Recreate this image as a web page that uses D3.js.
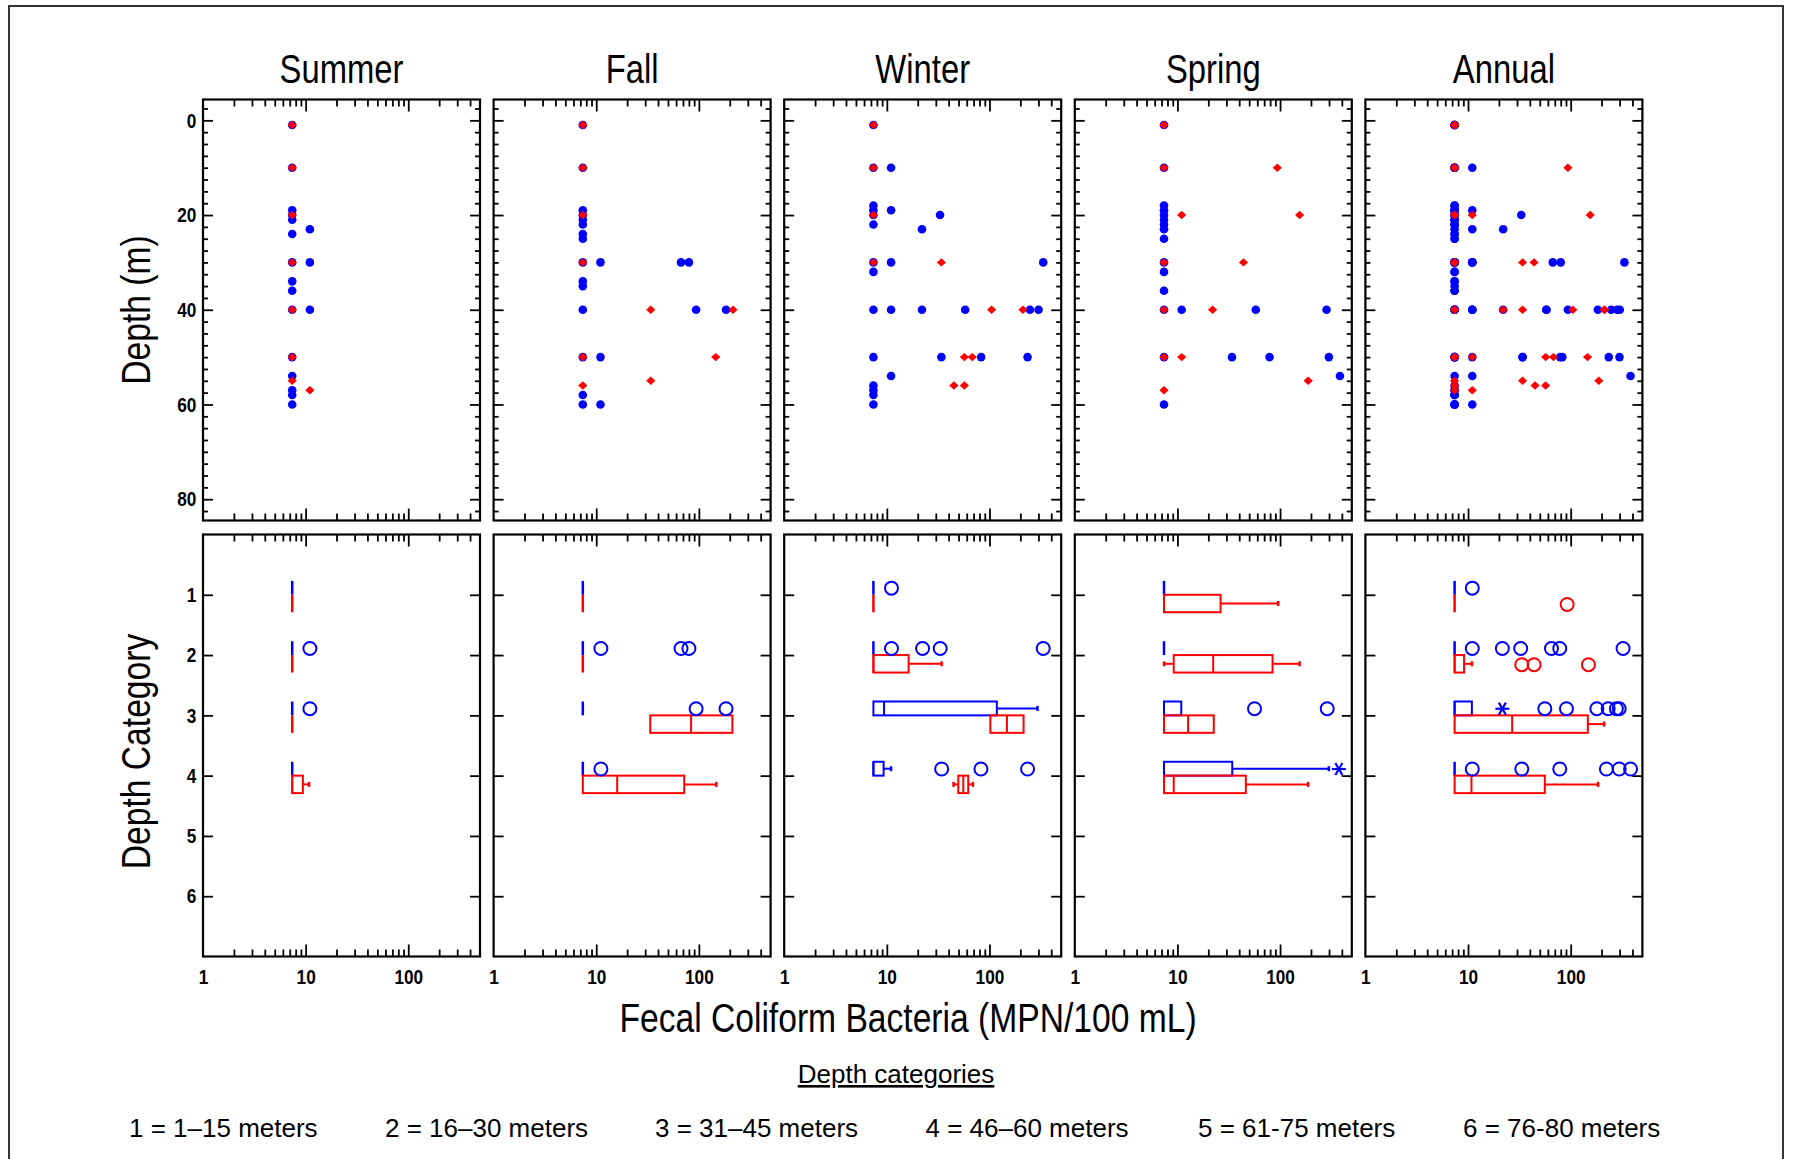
<!DOCTYPE html>
<html>
<head>
<meta charset="utf-8">
<script src="https://cdn.jsdelivr.net/npm/d3@7"></script>
<style>
  body { margin: 0; background: #fff; }
  svg { display: block; }
  text { font-family: "Liberation Sans", Arial, sans-serif; }
</style>
</head>
<body>
<script>
var svgWidth = 1796
var svgHeight = 1159
var squeeze = 0.82   // condensed look of the original lettering

// titles / categories
var panelTitles = ["Summer", "Fall", "Winter", "Spring", "Annual"]
var legendItems = ["1 = 1\u201315 meters", "2 = 16\u201330 meters", "3 = 31\u201345 meters",
                   "4 = 46\u201360 meters", "5 = 61-75 meters", "6 = 76-80 meters"]

// tick values
var xMajor = [10, 100]
var xMinor = [2, 3, 4, 5, 6, 7, 8, 9, 20, 30, 40, 50, 60, 70, 80, 90, 200, 300, 400]
var xLabels = [1, 10, 100]
var depthMajor = [0, 20, 40, 60, 80]
var depthMinor = [-2.5, 2.5, 5, 7.5, 10, 12.5, 15, 17.5, 22.5, 25, 27.5, 30, 32.5, 35, 37.5,
                  42.5, 45, 47.5, 50, 52.5, 55, 57.5, 62.5, 65, 67.5, 70, 72.5, 75, 77.5, 82.5]
var catTicks = [1, 2, 3, 4, 5, 6]

// scatter points: [MPN per 100 mL, depth m]
var summerBlue = [[7.4,1],[7.4,10],[7.4,19],[7.4,20],[7.4,21],[7.4,24],[7.4,30],[7.4,34],[7.4,36],[7.4,40],
                  [7.4,50],[7.4,54],[7.4,57],[7.4,58],[7.4,60],[11,23],[11,30],[11,40]]
var summerRed = [[7.4,1],[7.4,10],[7.4,20],[7.4,30],[7.4,40],[7.4,50],[7.4,55],[11,57]]

var fallBlue = [[7.4,1],[7.4,10],[7.4,19],[7.4,20],[7.4,21],[7.4,22],[7.4,24],[7.4,25],[7.4,30],[7.4,34],
                [7.4,35],[7.4,40],[7.4,50],[7.4,58],[7.4,60],[11,30],[11,50],[11,60],[67,30],[80,30],[94,40],[184,40]]
var fallRed = [[7.4,1],[7.4,10],[7.4,20],[7.4,30],[7.4,50],[7.4,56],[34,40],[34,55],[215,40],[146,50]]

var winterBlue = [[7.4,1],[7.4,10],[7.4,18],[7.4,19],[7.4,20],[7.4,22],[7.4,30],[7.4,32],[7.4,40],[7.4,50],
                  [7.4,56],[7.4,57],[7.4,58],[7.4,60],[11,10],[11,19],[11,30],[11,40],[11,54],[22,23],[22,40],
                  [33,20],[34,50],[58,40],[83,50],[248,40],[301,40],[235,50],[334,30]]
var winterRed = [[7.4,1],[7.4,10],[7.4,20],[7.4,30],[34,30],[57,50],[68,50],[45,56],[57,56],[105,40],[212,40]]

var springBlue = [[7.4,1],[7.4,10],[7.4,18],[7.4,19],[7.4,20],[7.4,21],[7.4,22],[7.4,23],[7.4,25],[7.4,30],
                  [7.4,32],[7.4,36],[7.4,40],[7.4,50],[7.4,60],[11,40],[58,40],[284,40],[34,50],[79,50],[299,50],[383,54]]
var springRed = [[7.4,1],[7.4,10],[7.4,30],[7.4,40],[7.4,50],[7.4,57],[11,20],[11,50],[94,10],[155,20],[44,30],[22,40],[188,55]]

// box stats: [category, q1, median, q3, whiskerLow, whiskerHigh]
var summerBoxBlue = [[1,7.4,7.4,7.4,null,null],[2,7.4,7.4,7.4,null,null],[3,7.4,7.4,7.4,null,null],[4,7.4,7.4,7.4,null,null]]
var summerBoxRed = [[1,7.4,7.4,7.4,null,null],[2,7.4,7.4,7.4,null,null],[3,7.4,7.4,7.4,null,null],[4,7.4,7.4,9.4,null,10.8]]
var fallBoxBlue = [[1,7.4,7.4,7.4,null,null],[2,7.4,7.4,7.4,null,null],[3,7.4,7.4,7.4,null,null],[4,7.4,7.4,7.4,null,null]]
var fallBoxRed = [[1,7.4,7.4,7.4,null,null],[2,7.4,7.4,7.4,null,null],[3,33.6,84,212,null,null],[4,7.4,16,72,null,148]]
var winterBoxBlue = [[1,7.4,7.4,7.4,null,null],[2,7.4,7.4,7.4,null,null],[3,7.4,9.4,118,null,294],[4,7.4,7.4,9.3,null,11]]
var winterBoxRed = [[1,7.4,7.4,7.4,null,null],[2,7.4,7.4,16.3,null,34.2],[3,102,148,215,null,null],[4,49.7,55.6,62.1,44.7,69]]
var springBoxBlue = [[1,7.4,7.4,7.4,null,null],[2,7.4,7.4,7.4,null,null],[3,7.4,7.4,10.9,null,null],[4,7.4,7.4,34.2,null,299]]
var springBoxRed = [[1,7.4,7.4,26.3,null,95.9],[2,9.2,22.3,84.5,7.4,155],[3,7.4,12.7,22.6,null,null],[4,7.4,9.2,46.4,null,188]]
var annualBoxBlue = [[1,7.4,7.4,7.4,null,null],[2,7.4,7.4,7.4,null,null],[3,7.4,7.4,10.9,null,null],[4,7.4,7.4,7.4,null,null]]
var annualBoxRed = [[1,7.4,7.4,7.4,null,null],[2,7.4,7.4,9.15,null,10.9],[3,7.4,26.9,147,null,212],[4,7.4,10.8,56,null,185]]

// outliers: [category, value]   (stars = extremes)
var summerOutBlue = [[2,11],[3,11]]
var summerOutRed = []
var fallOutBlue = [[2,11.1],[2,67],[2,80],[3,94],[3,184],[4,11.1]]
var fallOutRed = []
var winterOutBlue = [[1,11.1],[2,11.1],[2,22.3],[2,33.1],[2,334],[4,34.2],[4,82.6],[4,235]]
var winterOutRed = []
var springOutBlue = [[3,56.4],[3,288]]
var springOutRed = []
var springStarBlue = [[4,374]]
var annualOutBlue = [[1,11],[2,11],[2,21.6],[2,32.6],[2,65],[2,78.3],[2,324],
                     [3,56],[3,91],[3,180],[3,232],[3,279],[3,297],
                     [4,11],[4,33.4],[4,78.3],[4,223],[4,297],[4,383]]
var annualOutRed = [[1,92.4],[2,33.4],[2,44],[2,149]]
var annualStarBlue = [[3,21.6]]

var blue = "#0000ff"
var red = "#ff0000"

var panels = [
  {blue: summerBlue, red: summerRed, boxB: summerBoxBlue, boxR: summerBoxRed, outB: summerOutBlue, outR: summerOutRed, starB: []},
  {blue: fallBlue, red: fallRed, boxB: fallBoxBlue, boxR: fallBoxRed, outB: fallOutBlue, outR: fallOutRed, starB: []},
  {blue: winterBlue, red: winterRed, boxB: winterBoxBlue, boxR: winterBoxRed, outB: winterOutBlue, outR: winterOutRed, starB: []},
  {blue: springBlue, red: springRed, boxB: springBoxBlue, boxR: springBoxRed, outB: springOutBlue, outR: springOutRed, starB: springStarBlue},
  // annual = all seasons together
  {blue: summerBlue.concat(fallBlue, winterBlue, springBlue), red: summerRed.concat(fallRed, winterRed, springRed),
   boxB: annualBoxBlue, boxR: annualBoxRed, outB: annualOutBlue, outR: annualOutRed, starB: annualStarBlue}
]

// layout
var panelW = 277, panelH1 = 421, panelH2 = 422
var left0 = 203, step = 290.6
var top1 = 99.5, top2 = 534.5

var x = d3.scaleLog().domain([1, 500]).range([0, panelW])
var yDepth = d3.scaleLinear().domain([-4.4, 84.5]).range([0, panelH1])
var yCat = d3.scaleLinear().domain([0, 7]).range([0, panelH2])

var svg = d3.select("body").append("svg")
    .attr("width", svgWidth)
    .attr("height", svgHeight)

// outer frame
svg.append("path")
    .attr("d", "M9," + svgHeight + " V6 H1783 V" + svgHeight)
    .attr("fill", "none")
    .attr("stroke", "#333")
    .attr("stroke-width", 2)

function ticks(g, axis) {
    g.call(axis)
    g.select(".domain").remove()
    g.selectAll(".tick line").attr("stroke", "#000").attr("stroke-width", 1.8)
}

function xTicks(g, h) {
    ticks(g.append("g"), d3.axisBottom(x).tickValues(xMajor).tickSize(12).tickFormat(""))
    ticks(g.append("g"), d3.axisBottom(x).tickValues(xMinor).tickSize(7).tickFormat(""))
    ticks(g.append("g").attr("transform", "translate(0," + h + ")"), d3.axisTop(x).tickValues(xMajor).tickSize(12).tickFormat(""))
    ticks(g.append("g").attr("transform", "translate(0," + h + ")"), d3.axisTop(x).tickValues(xMinor).tickSize(7).tickFormat(""))
}

function yTicks(g, scale, vals, size) {
    ticks(g.append("g"), d3.axisRight(scale).tickValues(vals).tickSize(size).tickFormat(""))
    ticks(g.append("g").attr("transform", "translate(" + panelW + ",0)"), d3.axisLeft(scale).tickValues(vals).tickSize(size).tickFormat(""))
}

// bold condensed tick labels
function labelAxis(g, axis) {
    g.call(axis)
    g.select(".domain").remove()
    g.selectAll("text")
        .attr("transform", "scale(" + squeeze + ",1)")
        .style("font-family", "'Liberation Sans', Arial, sans-serif")
        .style("font-size", "21px")
        .style("font-weight", "bold")
        .attr("fill", "#000")
}

var diamond = "M0,-4.2 L4.6,0 L0,4.2 L-4.6,0 Z"

function drawBox(g, b, color, y0, y1) {
    var c = b[0], q1 = b[1], med = b[2], q3 = b[3], lo = b[4], hi = b[5]
    var top = yCat(c + y0), bot = yCat(c + y1), mid = (top + bot) / 2
    if (q1 === q3) {
        g.append("line").attr("x1", x(q1)).attr("x2", x(q1)).attr("y1", top).attr("y2", bot)
            .attr("stroke", color).attr("stroke-width", 2.5)
    } else {
        g.append("rect").attr("x", x(q1)).attr("y", top).attr("width", x(q3) - x(q1)).attr("height", bot - top)
            .attr("fill", "none").attr("stroke", color).attr("stroke-width", 2)
        g.append("line").attr("x1", x(med)).attr("x2", x(med)).attr("y1", top).attr("y2", bot)
            .attr("stroke", color).attr("stroke-width", 2)
    }
    if (hi !== null) {
        g.append("line").attr("x1", x(q3)).attr("x2", x(hi)).attr("y1", mid).attr("y2", mid)
            .attr("stroke", color).attr("stroke-width", 2)
        g.append("line").attr("x1", x(hi)).attr("x2", x(hi)).attr("y1", mid - 2.5).attr("y2", mid + 2.5)
            .attr("stroke", color).attr("stroke-width", 2.5)
    }
    if (lo !== null) {
        g.append("line").attr("x1", x(q1)).attr("x2", x(lo)).attr("y1", mid).attr("y2", mid)
            .attr("stroke", color).attr("stroke-width", 2)
        g.append("line").attr("x1", x(lo)).attr("x2", x(lo)).attr("y1", mid - 2.5).attr("y2", mid + 2.5)
            .attr("stroke", color).attr("stroke-width", 2.5)
    }
}

var blueSpan = [-0.23, 0], redSpan = [0, 0.29]

function bigText(tx, ty, rot, size, str) {
    svg.append("text")
        .attr("transform", "translate(" + tx + "," + ty + ")" + (rot ? " rotate(" + rot + ")" : "") + " scale(" + squeeze + ",1)")
        .attr("text-anchor", "middle")
        .style("font-size", size + "px")
        .text(str)
}

panels.forEach(function(p, i) {
    var px = left0 + i * step

    // title
    bigText(px + panelW / 2, 83, 0, 40, panelTitles[i])

    // ----- upper scatter panel
    var g1 = svg.append("g").attr("transform", "translate(" + px + "," + top1 + ")")
    xTicks(g1, panelH1)
    yTicks(g1, yDepth, depthMajor, 10)
    yTicks(g1, yDepth, depthMinor, 5)

    g1.selectAll(".pb").data(p.blue).enter().append("circle")
        .attr("cx", function(d) { return x(d[0]) })
        .attr("cy", function(d) { return yDepth(d[1]) })
        .attr("r", 4.3)
        .attr("fill", blue)
    g1.selectAll(".pr").data(p.red).enter().append("path")
        .attr("d", diamond)
        .attr("transform", function(d) { return "translate(" + x(d[0]) + "," + yDepth(d[1]) + ")" })
        .attr("fill", red)

    g1.append("rect").attr("width", panelW).attr("height", panelH1)
        .attr("fill", "none").attr("stroke", "#000").attr("stroke-width", 2.2)

    // ----- lower box panel
    var g2 = svg.append("g").attr("transform", "translate(" + px + "," + top2 + ")")
    xTicks(g2, panelH2)
    yTicks(g2, yCat, catTicks, 10)

    p.boxB.forEach(function(b) { drawBox(g2, b, blue, blueSpan[0], blueSpan[1]) })
    p.boxR.forEach(function(b) { drawBox(g2, b, red, redSpan[0], redSpan[1]) })

    g2.selectAll(".ob").data(p.outB).enter().append("circle")
        .attr("cx", function(d) { return x(d[1]) })
        .attr("cy", function(d) { return yCat(d[0] - 0.11) })
        .attr("r", 6.5)
        .attr("fill", "none").attr("stroke", blue).attr("stroke-width", 2)
    g2.selectAll(".or").data(p.outR).enter().append("circle")
        .attr("cx", function(d) { return x(d[1]) })
        .attr("cy", function(d) { return yCat(d[0] + 0.16) })
        .attr("r", 6.5)
        .attr("fill", "none").attr("stroke", red).attr("stroke-width", 2)

    var stars = g2.selectAll(".sb").data(p.starB).enter().append("g")
        .attr("transform", function(d) { return "translate(" + x(d[1]) + "," + yCat(d[0] - 0.11) + ")" })
    ;[0, 60, 120].forEach(function(a) {
        stars.append("line").attr("x1", -7).attr("x2", 7)
            .attr("transform", "rotate(" + a + ")")
            .attr("stroke", blue).attr("stroke-width", 2.2)
    })

    g2.append("rect").attr("width", panelW).attr("height", panelH2)
        .attr("fill", "none").attr("stroke", "#000").attr("stroke-width", 2.2)

    // x labels under lower panels
    labelAxis(g2.append("g").attr("transform", "translate(0," + panelH2 + ")"),
        d3.axisBottom(x).tickValues(xLabels).tickSize(0).tickPadding(13).tickFormat(d3.format("d")))

    if (i === 0) {
        labelAxis(g1.append("g"), d3.axisLeft(yDepth).tickValues(depthMajor).tickSize(0).tickPadding(8).tickFormat(d3.format("d")))
        labelAxis(g2.append("g"), d3.axisLeft(yCat).tickValues(catTicks).tickSize(0).tickPadding(8).tickFormat(d3.format("d")))
    }
})

// axis titles
bigText(150, top1 + panelH1 / 2, -90, 41, "Depth (m)")
bigText(150, top2 + panelH2 / 2 + 6, -90, 41, "Depth Category")
bigText(908, 1032, 0, 41, "Fecal Coliform Bacteria (MPN/100 mL)")

// legend
svg.append("text")
    .attr("x", 896)
    .attr("y", 1083)
    .attr("text-anchor", "middle")
    .style("font-size", "26px")
    .style("text-decoration", "underline")
    .text("Depth categories")

var legendX = [129, 385, 655, 925.5, 1198, 1463]
svg.selectAll(".leg").data(legendItems).enter().append("text")
    .attr("x", function(d, i) { return legendX[i] })
    .attr("y", 1137)
    .style("font-size", "26px")
    .text(function(d) { return d })
</script>
</body>
</html>
